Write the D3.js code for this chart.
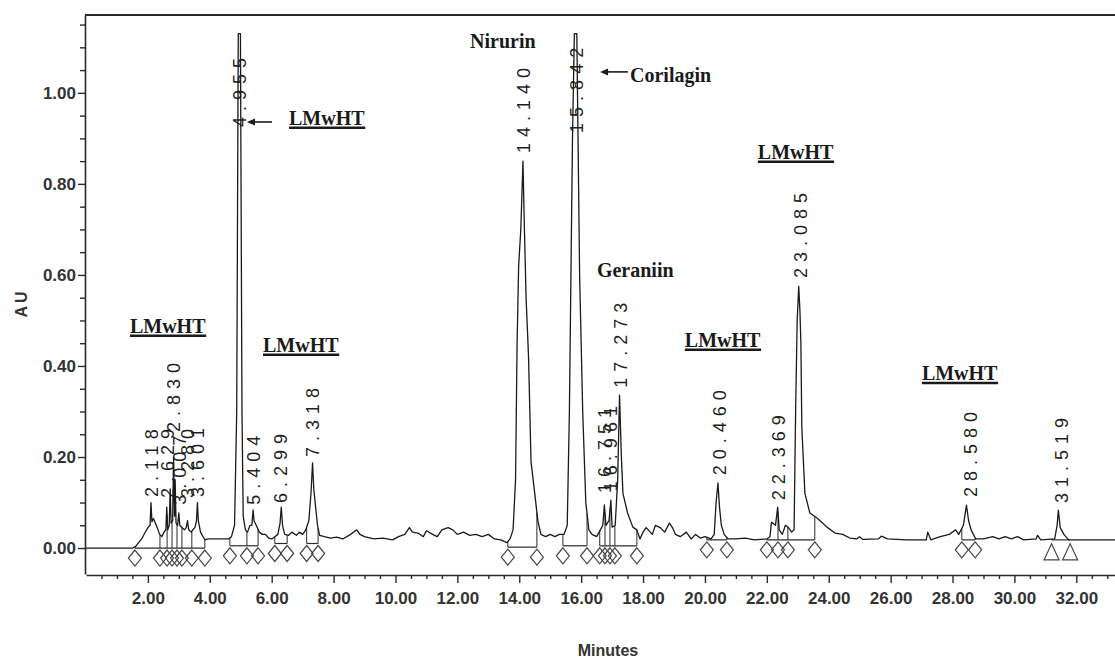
<!DOCTYPE html>
<html>
<head>
<meta charset="utf-8">
<script src="https://cdn.jsdelivr.net/npm/d3@7"></script>
<style>
  body { margin: 0; background: #fff; }
</style>
</head>
<body>
<div id="chart"></div>
<script>
const trace = [
  [0,0],[1.5,0],[1.6,0.003],[1.7,0.012],[1.8,0.02],[1.9,0.033],[2.0,0.045],[2.07,0.05],[2.1,0.10],[2.13,0.058],
  [2.18,0.065],[2.24,0.055],[2.3,0.045],[2.38,0.03],[2.45,0.025],[2.52,0.035],[2.58,0.04],[2.61,0.09],[2.64,0.04],
  [2.69,0.05],[2.72,0.13],[2.75,0.055],[2.8,0.06],[2.83,0.20],[2.86,0.07],[2.88,0.15],[2.91,0.055],[2.96,0.05],
  [3.0,0.077],[3.03,0.05],[3.1,0.045],[3.18,0.04],[3.24,0.045],[3.28,0.06],[3.32,0.04],[3.4,0.035],[3.45,0.04],
  [3.52,0.045],[3.57,0.06],[3.6,0.10],[3.63,0.06],[3.7,0.035],[3.78,0.025],[3.85,0.018],[3.95,0.02],[4.6,0.02],
  [4.7,0.025],[4.8,0.05],[4.87,0.3],[4.92,1.13],[4.99,1.13],[5.04,0.3],[5.08,0.07],[5.15,0.04],[5.22,0.035],
  [5.3,0.05],[5.36,0.05],[5.4,0.084],[5.43,0.06],[5.5,0.05],[5.6,0.035],[5.7,0.03],[5.8,0.03],[5.9,0.022],
  [6.0,0.02],[6.1,0.025],[6.2,0.03],[6.27,0.055],[6.31,0.09],[6.35,0.05],[6.42,0.03],[6.55,0.028],[6.65,0.035],
  [6.8,0.028],[6.9,0.035],[7.0,0.03],[7.1,0.04],[7.2,0.06],[7.27,0.12],[7.32,0.187],[7.36,0.13],[7.42,0.09],
  [7.48,0.05],[7.55,0.028],[7.7,0.025],[7.9,0.022],[8.1,0.024],[8.3,0.02],[8.55,0.03],[8.75,0.04],[8.85,0.03],
  [9.0,0.025],[9.3,0.02],[9.6,0.022],[9.9,0.018],[10.1,0.025],[10.3,0.03],[10.45,0.045],[10.55,0.035],[10.75,0.032],
  [10.9,0.025],[11.0,0.038],[11.2,0.03],[11.35,0.025],[11.5,0.04],[11.7,0.045],[11.85,0.04],[12.0,0.03],[12.2,0.035],
  [12.4,0.028],[12.6,0.03],[12.8,0.025],[13.0,0.03],[13.2,0.02],[13.4,0.018],[13.6,0.012],[13.7,0.02],[13.8,0.04],
  [13.88,0.15],[13.93,0.45],[13.98,0.62],[14.05,0.70],[14.12,0.85],[14.16,0.72],[14.22,0.55],[14.3,0.42],[14.38,0.19],
  [14.5,0.12],[14.6,0.06],[14.7,0.03],[14.85,0.025],[15.0,0.03],[15.15,0.025],[15.3,0.03],[15.45,0.03],[15.55,0.05],
  [15.62,0.3],[15.72,0.9],[15.78,1.13],[15.86,1.13],[15.95,0.6],[16.05,0.3],[16.15,0.1],[16.25,0.04],[16.35,0.03],
  [16.5,0.025],[16.62,0.04],[16.7,0.05],[16.75,0.095],[16.8,0.05],[16.9,0.06],[16.96,0.105],[17.0,0.046],[17.1,0.05],
  [17.18,0.15],[17.24,0.336],[17.3,0.2],[17.35,0.12],[17.5,0.077],[17.67,0.046],[17.8,0.04],[17.9,0.02],[18.0,0.035],
  [18.1,0.045],[18.3,0.03],[18.4,0.05],[18.55,0.045],[18.7,0.035],[18.85,0.055],[18.95,0.045],[19.05,0.03],[19.2,0.025],
  [19.4,0.035],[19.55,0.02],[19.7,0.03],[19.85,0.022],[20.0,0.025],[20.2,0.02],[20.3,0.03],[20.36,0.10],[20.42,0.143],
  [20.47,0.09],[20.53,0.05],[20.62,0.03],[20.75,0.02],[21.0,0.02],[21.3,0.022],[21.6,0.018],[22.0,0.02],[22.1,0.025],
  [22.15,0.057],[22.28,0.05],[22.35,0.09],[22.4,0.04],[22.5,0.03],[22.6,0.05],[22.7,0.045],[22.8,0.035],[22.88,0.04],
  [22.93,0.3],[22.98,0.5],[23.03,0.575],[23.07,0.52],[23.1,0.45],[23.13,0.266],[23.23,0.12],[23.39,0.077],[23.62,0.066],
  [23.8,0.055],[23.94,0.046],[24.2,0.033],[24.45,0.03],[24.68,0.022],[24.9,0.02],[25.0,0.025],[25.1,0.019],[25.6,0.02],
  [25.7,0.026],[25.9,0.02],[26.5,0.018],[27.15,0.018],[27.2,0.035],[27.3,0.018],[27.6,0.025],[27.9,0.03],[28.1,0.04],
  [28.2,0.03],[28.35,0.05],[28.45,0.094],[28.52,0.06],[28.6,0.04],[28.75,0.02],[29.0,0.02],[29.3,0.025],[29.5,0.02],
  [29.7,0.025],[29.9,0.02],[30.1,0.025],[30.3,0.018],[30.7,0.02],[30.75,0.028],[30.85,0.018],[31.3,0.02],[31.38,0.05],
  [31.42,0.083],[31.48,0.045],[31.6,0.03],[31.75,0.018],[33.25,0.018]
];

// Temps de rétention annotés et hauteur (AU) où commence chaque étiquette
const peakTimes = [2.118, 2.629, 2.830, 3.007, 3.280, 3.601, 4.955, 5.404, 6.299, 7.318,
                   14.140, 15.842, 16.751, 16.961, 17.273, 20.460, 22.369, 23.085, 28.580, 31.519];
const labelBase = [0.112, 0.11, 0.255, 0.095, 0.11, 0.112, 0.925, 0.095, 0.099, 0.20,
                   0.868, 0.912, 0.121, 0.125, 0.352, 0.16, 0.105, 0.593, 0.112, 0.099];

// Marqueurs d'intégration (losanges) et lignes de base
const diamondTimes = [1.58, 2.39, 2.62, 2.78, 2.94, 3.10, 3.42, 3.84, 4.65, 5.2, 5.56, 6.1, 6.5, 7.13, 7.5,
                      13.63, 14.57, 15.41, 16.19, 16.6, 16.77, 16.93, 17.09, 17.8, 20.06, 20.71,
                      22.0, 22.36, 22.68, 23.55, 28.3, 28.73];
const triangleTimes = [31.2, 31.8];
const baseGroups = [[1.58, 3.84], [4.65, 5.56], [6.1, 6.5], [7.13, 7.5], [13.63, 14.57], [15.41, 16.19],
                    [16.6, 17.8], [20.06, 20.71], [22.0, 23.55], [28.3, 28.73], [31.2, 31.8]];
const baseLevels = [0, 0.005, 0.01, 0.01, 0.002, 0.005, 0.005, 0.018, 0.018, 0.018, 0.018];

// Annotations
const noteText = ["LMwHT", "LMwHT", "LMwHT", "LMwHT", "LMwHT", "LMwHT", "Nirurin", "Corilagin", "Geraniin"];
const noteTime = [1.42, 5.72, 6.56, 19.35, 21.71, 27.01, 12.41, 17.58, 16.51];
const noteAU = [0.473, 0.431, 0.93, 0.442, 0.855, 0.369, 1.099, 1.024, 0.596];
const noteUnderline = [true, true, true, true, true, true, false, false, false];
const arrowFrom = [6.01, 17.51];
const arrowTo = [5.2, 16.61];
const arrowAU = [0.936, 1.046];

// Axes
const xMajor = [2, 4, 6, 8, 10, 12, 14, 16, 18, 20, 22, 24, 26, 28, 30, 32];
const yMajor = [0, 0.2, 0.4, 0.6, 0.8, 1.0];

const width = 1115;
const height = 659;
const ink = "#2a2a2a";

const x = d3.scaleLinear().domain([0, 33.25]).range([86, 1115]);
const y = d3.scaleLinear().domain([-0.057, 1.171]).range([574, 15]);

const svg = d3.select("#chart")
    .append("svg")
    .attr("width", width)
    .attr("height", height)
    .style("font-family", "'Liberation Sans', Arial, sans-serif");

// Cadre du haut
svg.append("line")
    .attr("x1", 85).attr("x2", width)
    .attr("y1", y(1.171)).attr("y2", y(1.171))
    .attr("stroke", ink).attr("stroke-width", 2);

// Axe Y
const yMinor = d3.range(0, 1.16, 0.05).filter(v => !yMajor.some(m => Math.abs(m - v) < 1e-6));
const gy = svg.append("g").attr("transform", "translate(85,0)");
gy.call(d3.axisLeft(y).tickValues(yMajor).tickFormat(d3.format(".2f")).tickSize(7).tickSizeOuter(0).tickPadding(2));
gy.append("g").call(d3.axisLeft(y).tickValues(yMinor).tickFormat("").tickSize(5).tickSizeOuter(0))
    .select(".domain").remove();
gy.selectAll(".domain").attr("stroke", ink).attr("stroke-width", 1.6);
gy.selectAll(".tick line").attr("stroke", ink).attr("stroke-width", 1.4);
gy.selectAll(".tick text")
    .attr("fill", "#333")
    .style("font-size", "17px")
    .style("font-weight", "bold");

// Axe X
const xMinor = d3.range(0.5, 33.1, 0.5).filter(v => v % 2 !== 0);
const gx = svg.append("g").attr("transform", "translate(0,575)");
gx.call(d3.axisBottom(x).tickValues(xMajor).tickFormat(d3.format(".2f")).tickSize(8).tickSizeOuter(0).tickPadding(9));
gx.append("g").call(d3.axisBottom(x).tickValues(xMinor).tickFormat("").tickSize(4).tickSizeOuter(0))
    .select(".domain").remove();
gx.selectAll(".domain").attr("stroke", ink).attr("stroke-width", 1.6);
gx.selectAll(".tick line").attr("stroke", ink).attr("stroke-width", 1.4);
gx.selectAll(".tick text")
    .attr("fill", "#333")
    .style("font-size", "17px")
    .style("font-weight", "bold");

// Titres des axes
svg.append("text")
    .attr("transform", "translate(21,303) rotate(-90)")
    .attr("text-anchor", "middle")
    .attr("dy", "0.35em")
    .attr("fill", "#333")
    .style("font-size", "16px")
    .style("font-weight", "bold")
    .style("letter-spacing", "3px")
    .text("AU");

svg.append("text")
    .attr("x", 608).attr("y", 656)
    .attr("text-anchor", "middle")
    .attr("fill", "#333")
    .style("font-size", "16px")
    .style("font-weight", "bold")
    .text("Minutes");

// Lignes de base d'intégration
svg.append("g").selectAll("line")
    .data(baseGroups)
    .join("line")
    .attr("x1", d => x(d[0])).attr("x2", d => x(d[1]))
    .attr("y1", (d, i) => y(baseLevels[i])).attr("y2", (d, i) => y(baseLevels[i]))
    .attr("stroke", ink).attr("stroke-width", 1.2);

// Valeur du signal à un temps donné (pour les traits de coupure)
const bis = d3.bisector(d => d[0]).left;
function signalAt(t) {
    const i = Math.max(1, Math.min(trace.length - 1, bis(trace, t)));
    const a = trace[i - 1], b = trace[i];
    return a[1] + (b[1] - a[1]) * (t - a[0]) / (b[0] - a[0]);
}
function levelAt(t) {
    const i = baseGroups.findIndex(g => t >= g[0] - 1e-6 && t <= g[1] + 1e-6);
    return i < 0 ? 0 : baseLevels[i];
}

const allMarks = diamondTimes.concat(triangleTimes);
svg.append("g").selectAll("line")
    .data(allMarks)
    .join("line")
    .attr("x1", d => x(d)).attr("x2", d => x(d))
    .attr("y1", d => y(levelAt(d))).attr("y2", d => y(signalAt(d)))
    .attr("stroke", ink).attr("stroke-width", 1);

// Signal
const line = d3.line().x(d => x(d[0])).y(d => y(d[1])).curve(d3.curveLinear);
svg.append("path")
    .datum(trace)
    .attr("d", line)
    .attr("fill", "none")
    .attr("stroke", "#1a1a1a")
    .attr("stroke-width", 1.3)
    .attr("stroke-linejoin", "round");

// Losanges et triangles
svg.append("g").selectAll("path")
    .data(diamondTimes)
    .join("path")
    .attr("transform", d => `translate(${x(d)},${y(levelAt(d)) + 10})`)
    .attr("d", "M0,-8L6.5,0L0,8L-6.5,0Z")
    .attr("fill", "none")
    .attr("stroke", "#444").attr("stroke-width", 1.2);

svg.append("g").selectAll("path")
    .data(triangleTimes)
    .join("path")
    .attr("transform", d => `translate(${x(d)},${y(levelAt(d)) + 12})`)
    .attr("d", "M0,-8L7.5,8L-7.5,8Z")
    .attr("fill", "none")
    .attr("stroke", "#444").attr("stroke-width", 1.2);

// Étiquettes des pics (texte vertical)
svg.append("g").selectAll("text")
    .data(peakTimes)
    .join("text")
    .attr("transform", (d, i) => `translate(${x(d)},${y(labelBase[i])}) rotate(-90)`)
    .attr("dy", "0.36em")
    .attr("fill", "#1f1f1f")
    .style("font-size", "18px")
    .style("letter-spacing", "6px")
    .text(d => d3.format(".3f")(d));

// Annotations (noms des composés)
const notes = svg.append("g")
    .style("font-family", "'Liberation Serif', 'Times New Roman', serif")
    .style("font-weight", "bold")
    .style("font-size", "20px");

noteText.forEach((txt, i) => {
    const t = notes.append("text")
        .attr("x", x(noteTime[i]))
        .attr("y", y(noteAU[i]))
        .attr("fill", "#1a1a1a")
        .text(txt);
    if (noteUnderline[i]) {
        const bb = t.node().getBBox();
        notes.append("line")
            .attr("x1", bb.x).attr("x2", bb.x + bb.width)
            .attr("y1", y(noteAU[i]) + 3).attr("y2", y(noteAU[i]) + 3)
            .attr("stroke", "#1a1a1a").attr("stroke-width", 2.5);
    }
});

// Flèches
arrowFrom.forEach((t0, i) => {
    const yy = y(arrowAU[i]);
    const x0 = x(t0), x1 = x(arrowTo[i]);
    svg.append("line")
        .attr("x1", x0).attr("x2", x1 + 6)
        .attr("y1", yy).attr("y2", yy)
        .attr("stroke", "#1a1a1a").attr("stroke-width", 1.6);
    svg.append("path")
        .attr("d", `M${x1},${yy}L${x1 + 8},${yy - 3.5}L${x1 + 8},${yy + 3.5}Z`)
        .attr("fill", "#1a1a1a");
});
</script>
</body>
</html>
